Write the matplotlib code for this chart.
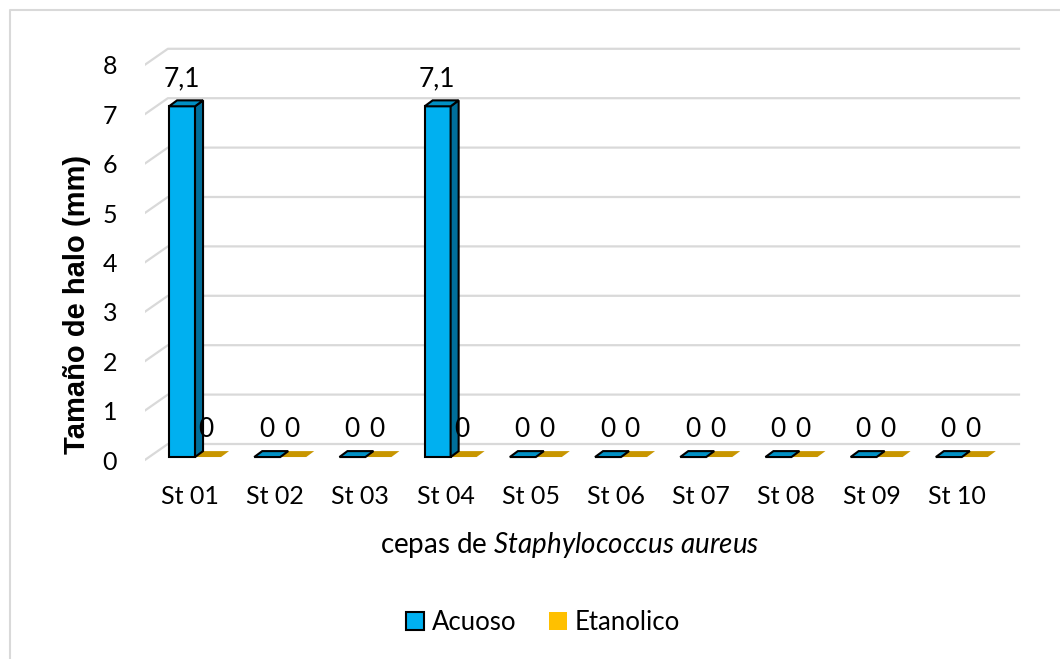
import matplotlib.pyplot as plt
from matplotlib.patches import Polygon, Patch
from matplotlib.lines import Line2D

# Datos
cepas = ["St 01", "St 02", "St 03", "St 04", "St 05",
         "St 06", "St 07", "St 08", "St 09", "St 10"]
acuoso = [7.1, 0, 0, 7.1, 0, 0, 0, 0, 0, 0]
etanolico = [0, 0, 0, 0, 0, 0, 0, 0, 0, 0]
etiquetas_y = [0, 1, 2, 3, 4, 5, 6, 7, 8]

plt.rcParams['font.family'] = ['Lato', 'DejaVu Sans']
plt.rcParams['mathtext.fontset'] = 'custom'
plt.rcParams['mathtext.rm'] = 'Lato'
plt.rcParams['mathtext.it'] = 'Lato:italic'

fig = plt.figure(figsize=(10.6, 6.59), dpi=100)

# ejes colocados en pixeles: x = 190 + 85.2*i, y = 460 - 49.4*v
px = 85.2
py = 49.4
x0, x1 = -0.53, 9.8
y0, y1 = -0.4, 8.6
izq = 190 + x0 * px
der = 190 + x1 * px
abajo = 460 - y0 * py
arriba = 460 - y1 * py
ax = fig.add_axes([izq / 1060, 1 - abajo / 659, (der - izq) / 1060, (abajo - arriba) / 659])
ax.set_xlim(x0, x1)
ax.set_ylim(y0, y1)
for s in ax.spines.values():
    s.set_visible(False)

# pared del fondo (profundidad)
pdx, pdy = 0.27, 0.324
for v in etiquetas_y:
    ax.plot([x0, x0 + pdx, 9.73], [v, v + pdy, v + pdy], color='#d9d9d9', lw=1.6, zorder=1)

# barras en pseudo 3D
ancho = 0.305
bdx, bdy = 0.094, 0.12
base = 0.06

def barra(xi, h, frente, lado, tapa, borde):
    y_top = base + h
    if h > 0:
        ax.add_patch(Polygon([(xi, base), (xi + ancho, base), (xi + ancho, y_top), (xi, y_top)],
                             closed=True, fc=frente, ec=borde, lw=1.5, zorder=3))
        ax.add_patch(Polygon([(xi + ancho, base), (xi + ancho + bdx, base + bdy),
                              (xi + ancho + bdx, y_top + bdy), (xi + ancho, y_top)],
                             closed=True, fc=lado, ec=borde, lw=1.5, zorder=3))
    ax.add_patch(Polygon([(xi, y_top), (xi + ancho, y_top), (xi + ancho + bdx, y_top + bdy),
                          (xi + bdx, y_top + bdy)],
                         closed=True, fc=tapa, ec=borde, lw=1.5 if borde != 'none' else 0, zorder=3))

for i in range(len(cepas)):
    xa = i - 0.246
    xe = xa + ancho
    barra(xe, etanolico[i], '#FFC000', '#C89600', '#C89600', 'none')
    barra(xa, acuoso[i], '#00B0F0', '#006E9A', '#0090C4', 'black')

# etiquetas de valores
for i in range(len(cepas)):
    ax.text(i - 0.1, acuoso[i] + 0.62, f"{acuoso[i]:g}".replace('.', ','),
            ha='center', va='center', fontsize=19, zorder=5)
    ax.text(i + 0.19, etanolico[i] + 0.62, f"{etanolico[i]:g}".replace('.', ','),
            ha='center', va='center', fontsize=19, zorder=5)

ax.set_xticks(range(len(cepas)))
ax.set_xticklabels(cepas, fontsize=18)
ax.set_yticks(etiquetas_y)
ax.set_yticklabels([str(v) for v in etiquetas_y], fontsize=18)
ax.tick_params(axis='x', length=0, pad=4)
ax.tick_params(axis='y', length=0, pad=20)

fig.text(77 / 1060, 1 - 304 / 659, "Tamaño de halo (mm)", rotation=90,
         ha='center', va='center', fontsize=21, fontweight='bold', family='Liberation Sans')
fig.text(570 / 1060, 1 - 545 / 659, r"cepas de $\mathit{Staphylococcus\ aureus}$",
         ha='center', va='center', fontsize=20)

fig.legend(handles=[Patch(fc='#00B0F0', ec='black', lw=1.5, label='Acuoso'),
                    Patch(fc='#FFC000', ec='none', label='Etanolico')],
           loc='center', bbox_to_anchor=(543 / 1060, 1 - 622 / 659), ncol=2,
           frameon=False, fontsize=18.5, handlelength=0.7, handleheight=0.7,
           handletextpad=0.3, columnspacing=1.3)

# borde del area del grafico
fig.add_artist(Line2D([10 / 1060, 10 / 1060, 1], [0, 1 - 10 / 659, 1 - 10 / 659],
                      color='#d9d9d9', lw=1.5))

fig.savefig("out.png", dpi=100)
